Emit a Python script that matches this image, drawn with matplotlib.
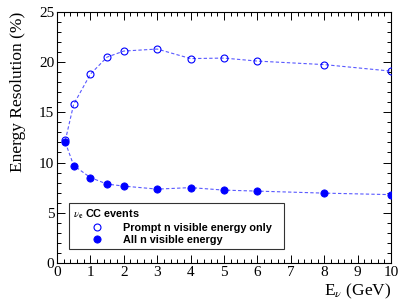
import matplotlib
matplotlib.use("Agg")
import matplotlib.pyplot as plt
from matplotlib.ticker import MultipleLocator

energy = [0.25, 0.5, 1, 1.5, 2, 3, 4, 5, 6, 8, 10]
prompt_res = [12.2, 15.8, 18.8, 20.5, 21.1, 21.3, 20.35, 20.4, 20.1, 19.75, 19.1]
all_res = [12.0, 9.7, 8.5, 7.85, 7.65, 7.35, 7.5, 7.25, 7.15, 6.95, 6.8]

plt.rcParams['mathtext.fontset'] = 'stix'
serif = 'Liberation Serif'
sans = 'Liberation Sans'

fig = plt.figure(figsize=(4.07, 3.05), dpi=100)
ax = fig.add_axes([0.140, 0.138, 0.821, 0.823])

line_col = (0.35, 0.35, 1.0)
blue = (0, 0, 1)
ax.plot(energy, prompt_res, ls=(0, (3, 2)), lw=0.8, color=line_col, zorder=2)
ax.plot(energy, all_res, ls=(0, (3, 2)), lw=0.8, color=line_col, zorder=2)
h1, = ax.plot(energy, prompt_res, ls='none', marker='o', ms=5, mfc='none',
              mec=blue, mew=0.8, zorder=3)
h2, = ax.plot(energy, all_res, ls='none', marker='o', ms=5.2, mfc=blue,
              mec=blue, mew=0.6, zorder=3)

ax.set_xlim(0, 10)
ax.set_ylim(0, 25)
ax.xaxis.set_major_locator(MultipleLocator(1))
ax.xaxis.set_minor_locator(MultipleLocator(0.2))
ax.yaxis.set_major_locator(MultipleLocator(5))
ax.yaxis.set_minor_locator(MultipleLocator(1))
ax.tick_params(which='both', direction='in', top=True, right=True, width=0.7)
ax.tick_params(which='major', length=6, labelsize=11, pad=2)
ax.tick_params(which='minor', length=3.2)
for lab in ax.get_xticklabels() + ax.get_yticklabels():
    lab.set_fontfamily(serif)
for s in ax.spines.values():
    s.set_linewidth(0.8)

ax.set_ylabel('Energy Resolution (%)', fontsize=12.5, family=serif, loc='top')
ax.yaxis.set_label_coords(-0.093, 1.0)
ax.set_xlabel('E$_{\\nu}$ (GeV)', fontsize=12.5, family=serif, loc='right')
ax.xaxis.set_label_coords(1.0, -0.075)

leg = ax.legend([h1, h2], ['Prompt n visible energy only', 'All n visible energy'],
                loc='lower left', bbox_to_anchor=(0.036, 0.056, 0.644, 0.183),
                mode='expand', title='$\\nu_\\mathbf{e}$ CC events', alignment='left',
                prop={'family': sans, 'weight': 'bold', 'size': 7.8},
                title_fontproperties={'family': sans, 'weight': 'bold', 'size': 7.8},
                frameon=True, fancybox=False, shadow=False, borderpad=0.35,
                handlelength=4.44, handletextpad=0.2, labelspacing=0.2,
                borderaxespad=0)
leg.get_frame().set_edgecolor('black')
leg.get_frame().set_linewidth(0.8)

fig.savefig('out.png', dpi=100)
